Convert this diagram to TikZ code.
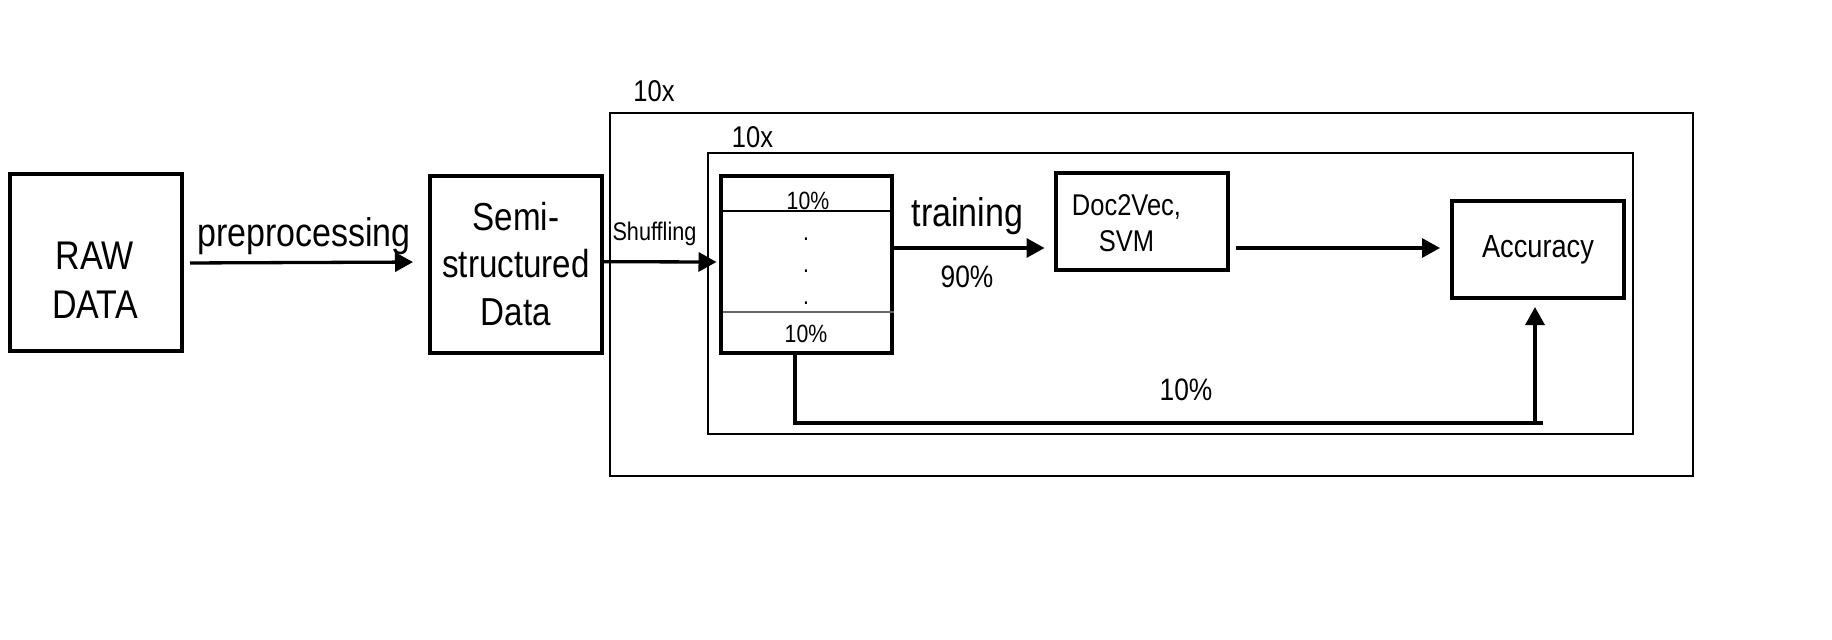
\documentclass[tikz,border=0pt]{standalone}
\usepackage{fontspec}
\setmainfont[FakeStretch=0.85]{Liberation Sans}
\usetikzlibrary{arrows.meta}
\newcommand{\fs}[1]{\fontsize{#1}{1.22\dimexpr #1pt\relax}\selectfont}
\tikzset{
  blk/.style={draw, line width=4pt, inner sep=0pt, minimum width=172pt},
  frm/.style={draw, line width=1.5pt, inner sep=0pt},
  arr/.style={line width=3.3pt, -{Triangle[length=18pt,width=19pt]}},
  plain/.style={line width=3.3pt},
  sep/.style={line width=1.4pt},
  lbl/.style={anchor=base, inner sep=0pt},
}
\begin{document}
\begin{tikzpicture}[x=1pt,y=-1pt]
\useasboundingbox[fill=white] (0,0) rectangle (1832,640);

% frames
\node[frm, minimum width=1083pt, minimum height=363pt] (outer) at (1151.5,294.5) {};
\node[frm, minimum width=925pt, minimum height=281pt] (inner) at (1170.5,293.5) {};
\node[lbl, font=\fs{30}] (outerlbl) at (654,101.7) {10x};
\node[lbl, font=\fs{30}] (innerlbl) at (752.5,147) {10x};

% boxes
\node[blk, minimum height=177pt] (raw) at (96,262) {};
\node[font=\fs{40}, align=center, inner sep=0pt] (rawtxt) at (95,280) {RAW\\DATA};
\node[blk, minimum height=177pt, font=\fs{39}, align=center] (semi) at (516,264) {Semi-\\structured\\Data};
\node[blk, minimum width=171pt, minimum height=177pt] (split) at (806,264) {};
\node[blk, minimum height=97pt] (doc) at (1141.5,221.5) {};
\node[font=\fs{30}, align=center, inner sep=0pt] (doctxt) at (1126.5,223) {Doc2Vec,\\SVM};
\node[blk, minimum height=97pt, font=\fs{32}] (acc) at (1538,249.5) {Accuracy};

% split box contents
\draw[sep] (split.west |- 0,211) -- (split.east |- 0,211);
\draw[sep, black!60] ([xshift=4pt]split.west |- 0,312) -- (split.east |- 0,312);
\node[lbl, font=\fs{25}] (ptop) at (808,209) {10\%};
\node[lbl, font=\fs{25}] (pbot) at (806,342) {10\%};
\node[lbl, font=\fs{25}] (d1) at (806,240) {.};
\node[lbl, font=\fs{25}] (d2) at (806,272) {.};
\node[lbl, font=\fs{25}] (d3) at (806,304) {.};

% connectors
\draw[arr, shorten <=6pt, shorten >=15pt] (raw.east |- 0,263) -- (semi.west |- 0,262);
\node[lbl, font=\fs{40}] (prep) at (304,246.7) {preprocessing};

\draw[arr, shorten >=2pt] (semi.east |- 0,261.7) -- (split.west |- 0,262);
\node[lbl, font=\fs{25.5}] (shuf) at (654.5,240) {Shuffling};

\draw[arr, shorten >=9pt] (split.east |- 0,248) -- (doc.west |- 0,248);
\node[lbl, font=\fs{40}] (train) at (967.5,226) {training};
\node[lbl, font=\fs{31}] (ninety) at (967,287) {90\%};

\draw[arr, shorten <=6pt, shorten >=10pt] (doc.east |- 0,248) -- (acc.west |- 0,248);

\coordinate (fbA) at (795,423);
\coordinate (fbB) at (1535,423);
\draw[arr, shorten >=7pt] (split.south -| fbA) -- (fbA) -- (fbB) -- (acc.south -| fbB);
\draw[plain] (fbB) -- ++(8,0);
\node[lbl, font=\fs{31}] (ten) at (1186,400) {10\%};
\end{tikzpicture}
\end{document}
